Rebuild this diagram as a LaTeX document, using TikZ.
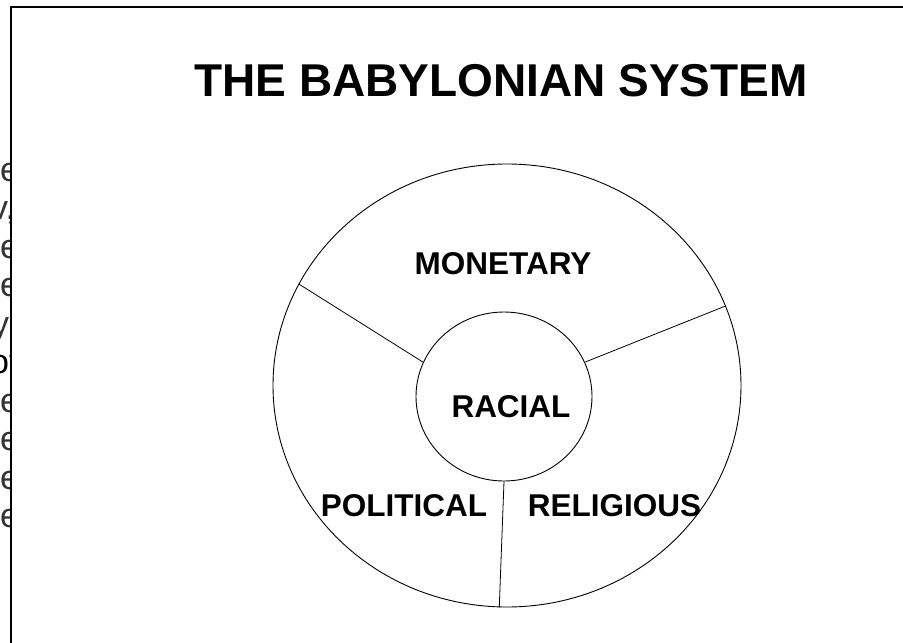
\documentclass[tikz,border=0pt]{standalone}
\usepackage{fontspec}
\setmainfont{Liberation Sans}
\usetikzlibrary{shapes.geometric}
\begin{document}
\begin{tikzpicture}[x=1pt,y=1pt,
  lbl/.style={font=\fontsize{31.5}{34}\selectfont\bfseries, inner sep=0pt, anchor=base},
  ring/.style={draw=black, line width=0.9pt, ellipse, inner sep=0pt},
  spoke/.style={draw=black, line width=0.8pt},
  cut/.style={font=\fontsize{34}{38}\selectfont, text=black!80, inner sep=0pt, anchor=base west}]
\useasboundingbox (0,0) rectangle (903,-643);
\fill[white] (0,0) rectangle (903,-643);
% clipped side text
\begin{scope}
\clip (0,0) rectangle (11,-643);
\node[cut] (c0) at (0,-181) {e};
\node[cut] (c1) at (-9,-219.5) {v,};
\node[cut] (c2) at (0,-258) {e};
\node[cut] (c3) at (0,-296.5) {e};
\node[cut] (c4) at (-8,-335) {y};
\node[cut,text=black] (c5) at (-10,-373.5) {of};
\node[cut] (c6) at (0,-412) {e};
\node[cut] (c7) at (0,-450.5) {e};
\node[cut] (c8) at (0,-489) {e};
\node[cut] (c9) at (0,-527.5) {e};
\end{scope}
% frame
\draw[line width=2pt] (11,-643) -- (11,-7) -- (903,-7);
% title
\node[font=\fontsize{46}{50}\selectfont\bfseries, inner sep=0pt, anchor=base] (title) at (501,-96) {THE BABYLONIAN SYSTEM};
% circles
\node[ring, minimum width=468pt, minimum height=443pt] (outer) at (507,-385.5) {};
\node[ring, minimum width=176pt, minimum height=169pt] (inner) at (504,-396.5) {};
% spokes
\draw[spoke] (outer.154.2) -- (inner.157);
\draw[spoke] (outer.20.7) -- (inner.23.1);
\draw[spoke] (inner.270) -- (outer.268.4);
% labels
\node[lbl] (mon) at (503,-274) {MONETARY};
\node[lbl] (rac) at (511,-417) {RACIAL};
\node[lbl] (pol) at (404,-516) {POLITICAL};
\node[lbl] (rel) at (614.5,-516) {RELIGIOUS};
\end{tikzpicture}
\end{document}
